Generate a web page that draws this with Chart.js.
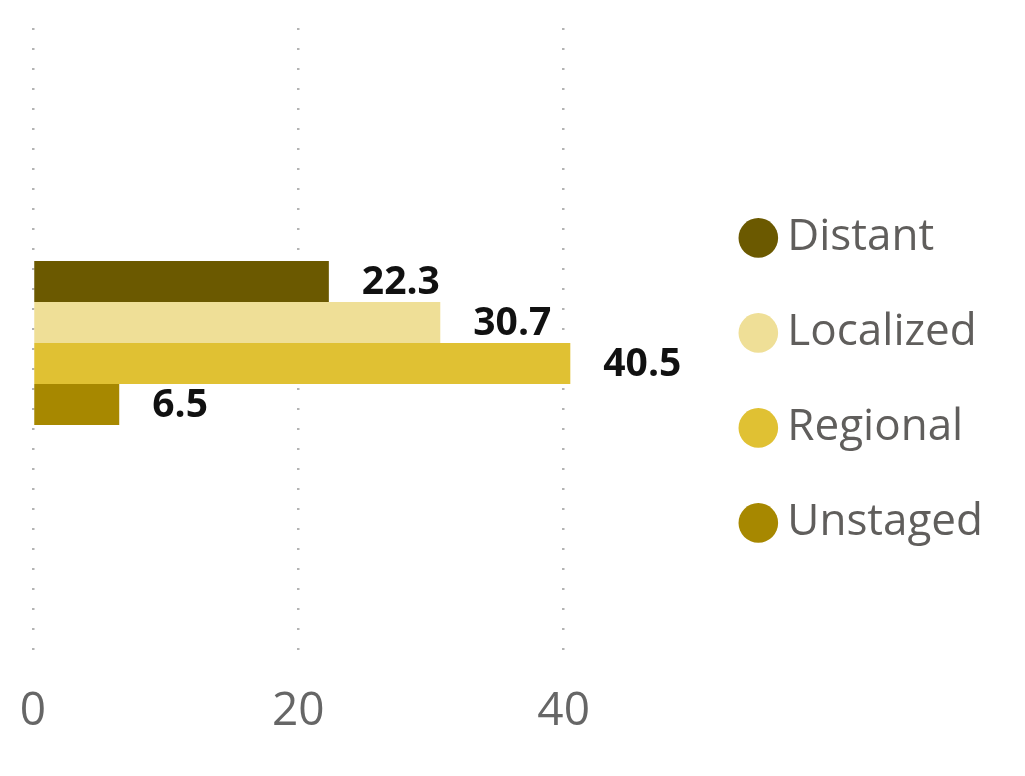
<!DOCTYPE html>
<html>
<head>
<meta charset="utf-8">
<script src="https://cdn.jsdelivr.net/npm/chart.js@4/dist/chart.umd.min.js"></script>
<style>
  html, body { margin: 0; padding: 0; background: #ffffff; }
  #wrap { width: 1025px; height: 776px; }
</style>
</head>
<body>
<div id="wrap"><canvas id="barChart"></canvas></div>
<script>
const categories = [""];
const stageNames = ["Distant", "Localized", "Regional", "Unstaged"];
const stageValues = [22.3, 30.7, 40.5, 6.5];
const stageColors = ["#6b5900", "#efdf97", "#e0c133", "#a78800"];
const xTicks = [0, 20, 40];

// value labels to the right of each bar
const barLabels = {
  id: "barLabels",
  afterLayout(chart) {
    // nudge the legend column up a little
    chart.legend.top -= 6;
    chart.legend.bottom -= 6;
  },
  afterDatasetsDraw(chart) {
    const ctx = chart.ctx;
    ctx.save();
    ctx.font = "bold 39px 'Open Sans'";
    ctx.fillStyle = "#111111";
    ctx.textAlign = "left";
    ctx.textBaseline = "middle";
    chart.data.datasets.forEach((ds, i) => {
      chart.getDatasetMeta(i).data.forEach((bar, j) => {
        ctx.fillText(ds.data[j].toFixed(1), bar.x + 33, bar.y + 1);
      });
    });
    ctx.restore();
  }
};

const barCtx = document.getElementById("barChart").getContext("2d");
new Chart(barCtx, {
  type: "bar",
  data: {
    labels: categories,
    datasets: stageNames.map((name, i) => ({
      label: name,
      data: [stageValues[i]],
      backgroundColor: stageColors[i],
      barPercentage: 1,
      categoryPercentage: 0.252
    }))
  },
  options: {
    indexAxis: "y",
    responsive: true,
    maintainAspectRatio: false,
    animation: false,
    layout: {
      padding: { left: 33, top: 18, right: 32, bottom: 21.2 }
    },
    plugins: {
      tooltip: { enabled: false },
      legend: {
        position: "right",
        labels: {
          usePointStyle: true,
          pointStyle: "circle",
          boxWidth: 14,
          boxHeight: 28,
          padding: 51,
          color: "#605e5c",
          font: { size: 44, family: "'Open Sans'" }
        }
      }
    },
    scales: {
      x: {
        min: 0,
        max: 50.3,
        afterBuildTicks(scale) {
          scale.ticks = xTicks.map(v => ({ value: v }));
        },
        ticks: {
          padding: 15.8,
          color: "#666666",
          font: { size: 46, family: "'Open Sans'" }
        },
        grid: {
          color: "#b4b4b4",
          lineWidth: 2.5,
          drawTicks: false,
          borderDash: [2, 18],
          borderDashOffset: 10
        },
        border: { display: false, dash: [2, 18], dashOffset: 10 }
      },
      y: {
        display: false
      }
    }
  },
  plugins: [barLabels]
});
</script>
</body>
</html>
